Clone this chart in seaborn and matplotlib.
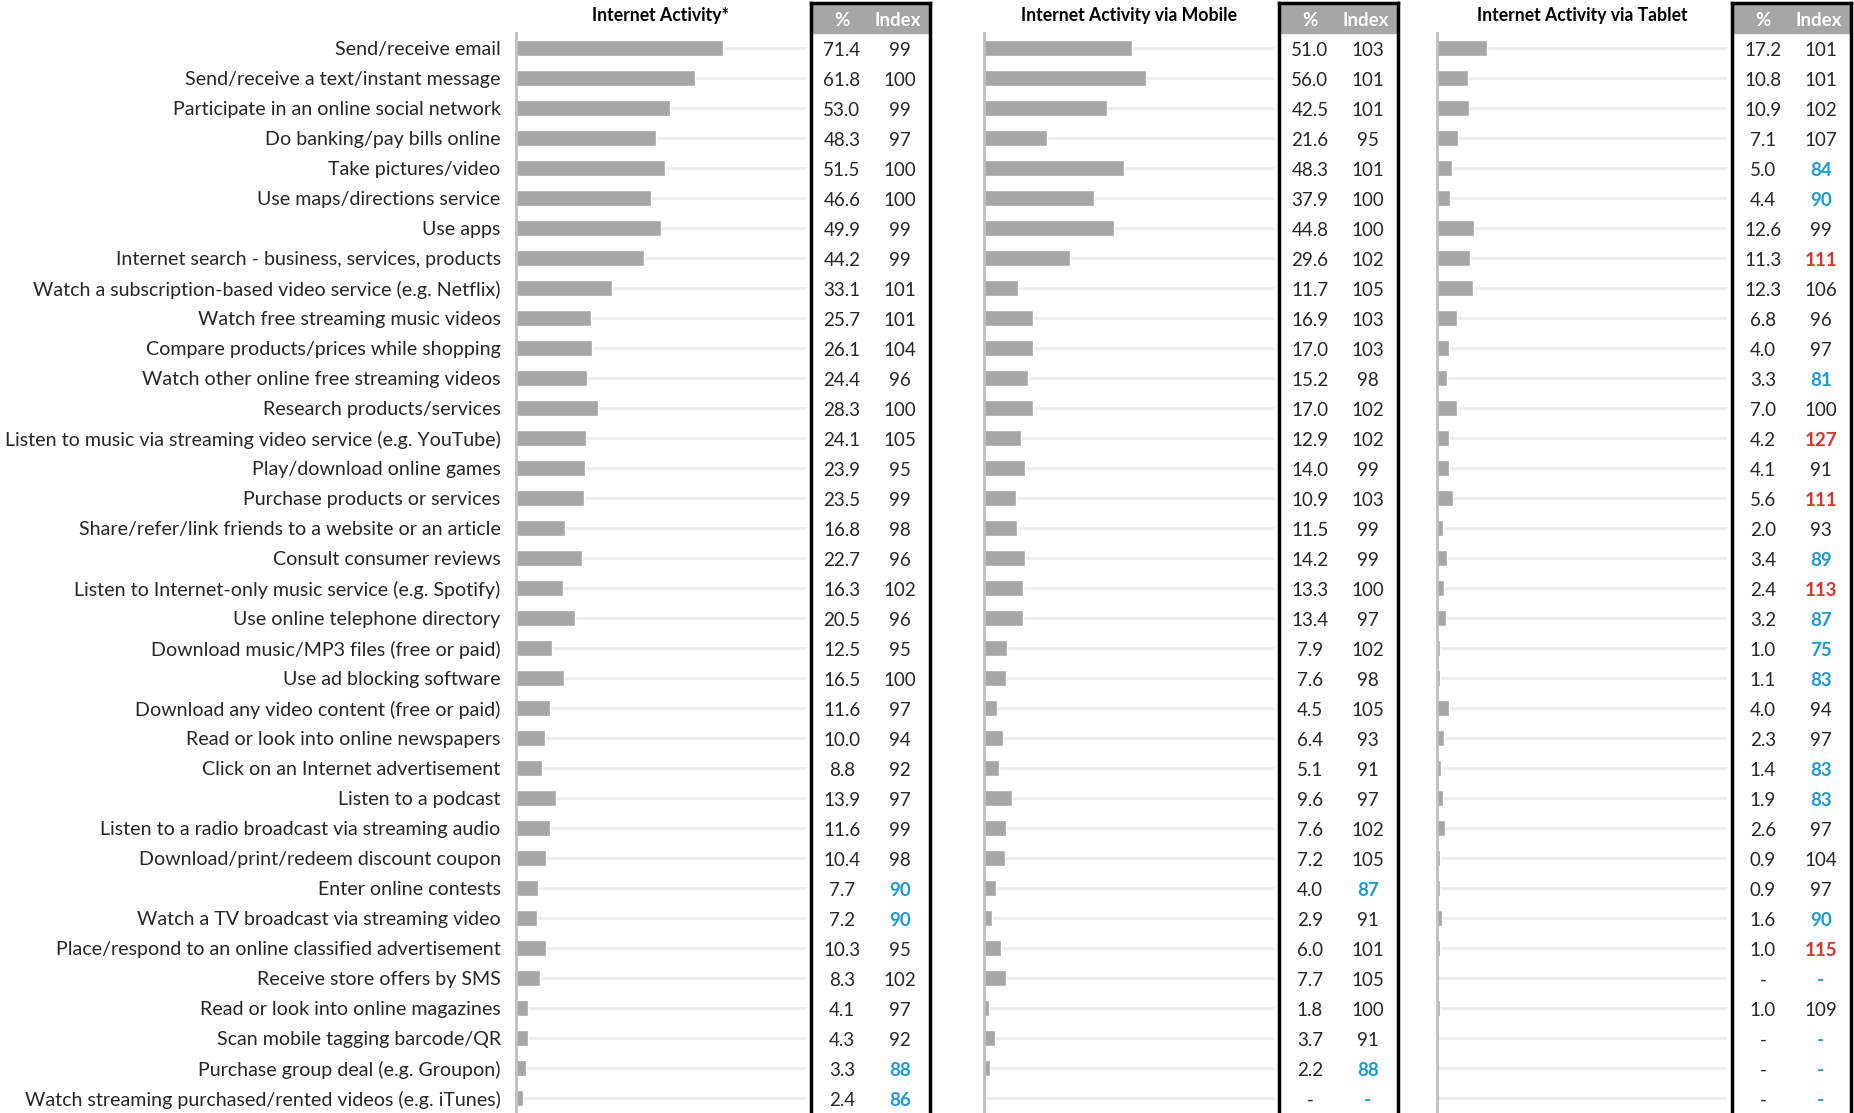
import numpy as np
import pandas as pd
import matplotlib
matplotlib.use('Agg')
import matplotlib.pyplot as plt
import seaborn as sns

sns.set_style('white')
plt.rcParams['font.family'] = ['Lato', 'DejaVu Sans']

activities = [
    'Send/receive email',
    'Send/receive a text/instant message',
    'Participate in an online social network',
    'Do banking/pay bills online',
    'Take pictures/video',
    'Use maps/directions service',
    'Use apps',
    'Internet search - business, services, products',
    'Watch a subscription-based video service (e.g. Netflix)',
    'Watch free streaming music videos',
    'Compare products/prices while shopping',
    'Watch other online free streaming videos',
    'Research products/services',
    'Listen to music via streaming video service (e.g. YouTube)',
    'Play/download online games',
    'Purchase products or services',
    'Share/refer/link friends to a website or an article',
    'Consult consumer reviews',
    'Listen to Internet-only music service (e.g. Spotify)',
    'Use online telephone directory',
    'Download music/MP3 files (free or paid)',
    'Use ad blocking software',
    'Download any video content (free or paid)',
    'Read or look into online newspapers',
    'Click on an Internet advertisement',
    'Listen to a podcast',
    'Listen to a radio broadcast via streaming audio',
    'Download/print/redeem discount coupon',
    'Enter online contests',
    'Watch a TV broadcast via streaming video',
    'Place/respond to an online classified advertisement',
    'Receive store offers by SMS',
    'Read or look into online magazines',
    'Scan mobile tagging barcode/QR',
    'Purchase group deal (e.g. Groupon)',
    'Watch streaming purchased/rented videos (e.g. iTunes)',
]

nan = np.nan
# % of users / index, overall
all_pct = [71.4, 61.8, 53.0, 48.3, 51.5, 46.6, 49.9, 44.2, 33.1, 25.7, 26.1, 24.4,
           28.3, 24.1, 23.9, 23.5, 16.8, 22.7, 16.3, 20.5, 12.5, 16.5, 11.6, 10.0,
           8.8, 13.9, 11.6, 10.4, 7.7, 7.2, 10.3, 8.3, 4.1, 4.3, 3.3, 2.4]
all_idx = [99, 100, 99, 97, 100, 100, 99, 99, 101, 101, 104, 96,
           100, 105, 95, 99, 98, 96, 102, 96, 95, 100, 97, 94,
           92, 97, 99, 98, 90, 90, 95, 102, 97, 92, 88, 86]
# via mobile
mob_pct = [51.0, 56.0, 42.5, 21.6, 48.3, 37.9, 44.8, 29.6, 11.7, 16.9, 17.0, 15.2,
           17.0, 12.9, 14.0, 10.9, 11.5, 14.2, 13.3, 13.4, 7.9, 7.6, 4.5, 6.4,
           5.1, 9.6, 7.6, 7.2, 4.0, 2.9, 6.0, 7.7, 1.8, 3.7, 2.2, nan]
mob_idx = [103, 101, 101, 95, 101, 100, 100, 102, 105, 103, 103, 98,
           102, 102, 99, 103, 99, 99, 100, 97, 102, 98, 105, 93,
           91, 97, 102, 105, 87, 91, 101, 105, 100, 91, 88, nan]
# via tablet
tab_pct = [17.2, 10.8, 10.9, 7.1, 5.0, 4.4, 12.6, 11.3, 12.3, 6.8, 4.0, 3.3,
           7.0, 4.2, 4.1, 5.6, 2.0, 3.4, 2.4, 3.2, 1.0, 1.1, 4.0, 2.3,
           1.4, 1.9, 2.6, 0.9, 0.9, 1.6, 1.0, nan, 1.0, nan, nan, nan]
tab_idx = [101, 101, 102, 107, 84, 90, 99, 111, 106, 96, 97, 81,
           100, 127, 91, 111, 93, 89, 113, 87, 75, 83, 94, 97,
           83, 83, 97, 104, 97, 90, 115, nan, 109, nan, nan, nan]

panels = [
    ('Internet Activity*', all_pct, all_idx),
    ('Internet Activity via Mobile', mob_pct, mob_idx),
    ('Internet Activity via Tablet', tab_pct, tab_idx),
]

W, H = 1854, 1113
fig = plt.figure(figsize=(W / 100, H / 100), dpi=100)

bar_left = [516, 984, 1437]
tab_left = [811, 1279, 1732]
bar_w = 290
tab_w = 119
n = len(activities)
row_px = 30.0
top_row = 48  # pixel y of first row centre

bar_col = '#a6a6a6'
txt_col = '#262626'
blue = '#1a9ad6'
red = '#e0312a'
dy = 0.07  # nudge table text down to sit on the bar centre

def ax_box(x0, w, top_px):
    return [x0 / W, 0, w / W, (H - top_px) / H]

for k, (title, pct, idx) in enumerate(panels):
    df = pd.DataFrame({'activity': activities, 'pct': pct})

    ax = fig.add_axes(ax_box(bar_left[k], bar_w, top_row - row_px / 2))
    ax.hlines(range(n), 0, 100, color='#eeeeee', lw=2.2, zorder=0)
    sns.barplot(data=df, x='pct', y='activity', order=activities, orient='h',
                color=bar_col, saturation=1, width=0.55, ax=ax, zorder=2)
    ax.set_xlim(0, 100)
    bottom_row = (H - top_row) / row_px
    ax.set_ylim(bottom_row, -0.5)
    ax.set_xlabel('')
    ax.set_ylabel('')
    ax.set_xticks([])
    for s in ['top', 'right', 'bottom']:
        ax.spines[s].set_visible(False)
    ax.spines['left'].set_color('#bfbfbf')
    ax.spines['left'].set_linewidth(2)
    ax.tick_params(axis='y', length=0, pad=11)
    if k == 0:
        ax.set_yticks(range(n))
        ax.set_yticklabels(activities, fontsize=14.1, color=txt_col)
    else:
        ax.set_yticks([])
    ax.text(50, -1.1, title, ha='center', va='center', fontsize=12.7,
            fontweight='bold', color='black')

    # table of % and index
    tx = fig.add_axes(ax_box(tab_left[k], tab_w, top_row - 1.5 * row_px))
    tx.set_xlim(0, 1)
    tx.set_ylim(bottom_row, -1.5)
    tx.set_xticks([])
    tx.set_yticks([])
    tx.axhspan(-1.5, -0.5, color=bar_col, zorder=0)
    for s in ['top', 'left', 'right']:
        tx.spines[s].set_color('black')
        tx.spines[s].set_linewidth(2.5)
    tx.spines['bottom'].set_visible(False)
    tx.text(0.26, -1 + dy, '%', ha='center', va='center', fontsize=13.5,
            fontweight='bold', color='white')
    tx.text(0.73, -1 + dy, 'Index', ha='center', va='center', fontsize=13.5,
            fontweight='bold', color='white')
    for i in range(n):
        p = pct[i]
        v = idx[i]
        y = i + dy
        ptxt = '-' if np.isnan(p) else f'{p:.1f}'
        tx.text(0.26, y, ptxt, ha='center', va='center', fontsize=13.5, color=txt_col)
        if np.isnan(v):
            tx.text(0.745, y, '-', ha='center', va='center', fontsize=13.5,
                    color=blue, fontweight='bold')
        elif v <= 90:
            tx.text(0.745, y, f'{int(v)}', ha='center', va='center', fontsize=13.5,
                    color=blue, fontweight='bold')
        elif v >= 110:
            tx.text(0.745, y, f'{int(v)}', ha='center', va='center', fontsize=13.5,
                    color=red, fontweight='bold')
        else:
            tx.text(0.745, y, f'{int(v)}', ha='center', va='center', fontsize=13.5,
                    color=txt_col)

fig.savefig('out.png', dpi=100, facecolor='white')
